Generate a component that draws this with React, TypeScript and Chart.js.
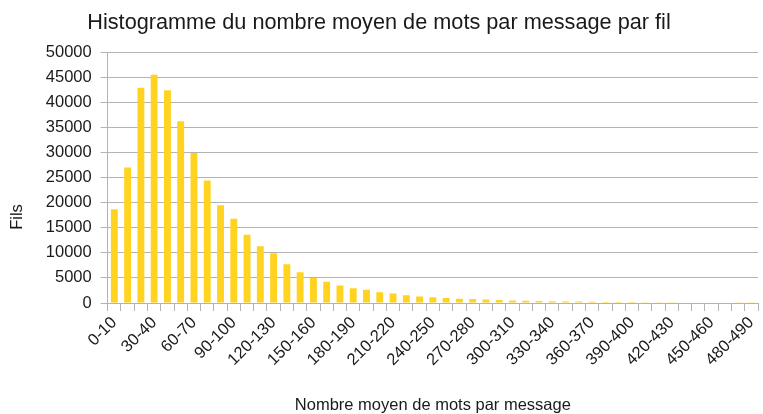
import React, { useEffect, useRef } from "react";
import { Chart, registerables } from "chart.js";

Chart.register(...registerables);

const categories = [
  "0-10", "10-20", "20-30", "30-40", "40-50", "50-60", "60-70", "70-80", "80-90", "90-100",
  "100-110", "110-120", "120-130", "130-140", "140-150", "150-160", "160-170", "170-180", "180-190", "190-200",
  "200-210", "210-220", "220-230", "230-240", "240-250", "250-260", "260-270", "270-280", "280-290", "290-300",
  "300-310", "310-320", "320-330", "330-340", "340-350", "350-360", "360-370", "370-380", "380-390", "390-400",
  "400-410", "410-420", "420-430", "430-440", "440-450", "450-460", "460-470", "470-480", "480-490",
];

const threadCounts = [
  18700, 27000, 42900, 45500, 42400, 36200, 29900, 24400, 19500, 16800,
  13600, 11300, 9900, 7700, 6150, 5000, 4250, 3500, 2950, 2650,
  2150, 1900, 1550, 1300, 1150, 1000, 870, 800, 680, 600,
  500, 450, 400, 350, 300, 280, 250, 220, 200, 180,
  160, 145, 130, 110, 100, 90, 80, 70, 60,
];

const chartTitle = "Histogramme du nombre moyen de mots par message par fil";
const xTitle = "Nombre moyen de mots par message";
const yTitle = "Fils";
const yMax = 50000;
const yStep = 5000;
const labelEvery = 3;

const FONT = "'Liberation Sans', Arial, sans-serif";
const TEXT = "#1a1a1a";
const GRID = "#b3b3b3";
const BAR = "#ffd320";

export default function App() {
  const ref = useRef<HTMLCanvasElement | null>(null);

  useEffect(() => {
    document.body.style.margin = "0";
    const canvas = ref.current;
    if (!canvas) return;

    const yTitlePlugin = {
      id: "yTitlePlugin",
      afterDraw(chart: any) {
        const ctx = chart.ctx;
        ctx.save();
        ctx.translate(17.5, 217);
        ctx.rotate(-Math.PI / 2);
        ctx.font = `16.5px ${FONT}`;
        ctx.fillStyle = TEXT;
        ctx.textAlign = "center";
        ctx.textBaseline = "middle";
        ctx.fillText(yTitle, 0, 0);
        ctx.restore();
      },
    };

    const chart = new Chart(canvas, {
      type: "bar",
      data: {
        labels: categories,
        datasets: [
          {
            data: threadCounts,
            backgroundColor: BAR,
            borderWidth: 0,
            barPercentage: 0.52,
            categoryPercentage: 1,
          },
        ],
      },
      options: {
        responsive: false,
        animation: false,
        devicePixelRatio: 1,
        layout: { padding: { left: 0, right: 5, top: 0, bottom: 0 } },
        plugins: {
          legend: { display: false },
          tooltip: { enabled: false },
          title: {
            display: true,
            text: chartTitle,
            color: TEXT,
            font: { family: FONT, size: 21.7, weight: "normal" },
            padding: { top: 10, bottom: 16 },
          },
        },
        scales: {
          x: {
            grid: {
              offset: true,
              drawOnChartArea: false,
              tickLength: 8,
              color: GRID,
            },
            border: { color: GRID },
            ticks: {
              autoSkip: false,
              minRotation: 45,
              maxRotation: 45,
              color: TEXT,
              font: { family: FONT, size: 16.5 },
              padding: 2,
              callback: (_v: any, i: number) => (i % labelEvery === 0 ? categories[i] : ""),
            },
            title: {
              display: true,
              text: xTitle,
              color: TEXT,
              font: { family: FONT, size: 16.5, lineHeight: 1 },
              padding: { top: 0, bottom: 0 },
            },
            afterFit: (s: any) => {
              s.height = 111;
              s.paddingRight = 0;
              s.paddingLeft = 0;
            },
          },
          y: {
            min: 0,
            max: yMax,
            grid: { color: GRID, tickLength: 7 },
            border: { color: GRID },
            ticks: {
              stepSize: yStep,
              color: TEXT,
              font: { family: FONT, size: 16.5 },
              padding: 9,
              callback: (v: any) => String(v),
            },
            afterFit: (s: any) => {
              s.width = 107.7;
            },
          },
        },
      },
      plugins: [yTitlePlugin],
    });

    return () => chart.destroy();
  }, []);

  return (
    <div style={{ width: 763, height: 414 }}>
      <canvas ref={ref} width={763} height={414} style={{ display: "block", width: 763, height: 414 }} />
    </div>
  );
}
